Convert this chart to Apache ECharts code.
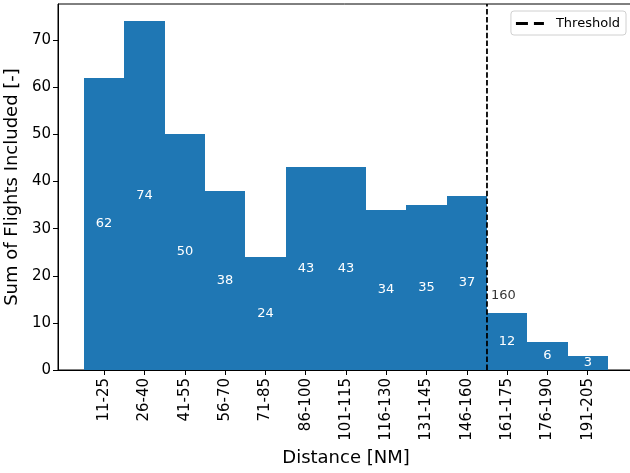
<!DOCTYPE html>
<html>
<head>
<meta charset="utf-8">
<script src="https://cdn.jsdelivr.net/npm/echarts@6/dist/echarts.min.js"></script>
<style>
  html, body { margin: 0; padding: 0; background: #fff; }
  #chart { width: 630px; height: 473px; }
</style>
</head>
<body>
<div id="chart"></div>
<script>
// Distance bins (NM) and the number of flights in each bin
const categories = ['11-25', '26-40', '41-55', '56-70', '71-85', '86-100', '101-115',
                    '116-130', '131-145', '146-160', '161-175', '176-190', '191-205'];
const flights = [62, 74, 50, 38, 24, 43, 43, 34, 35, 37, 12, 6, 3];

// Threshold sits on the boundary between the 146-160 and 161-175 bins
const thresholdPos = 9.5;
const thresholdText = '160';
const thresholdTextAt = [9.6, 15.7];

const yTicks = [0, 10, 20, 30, 40, 50, 60, 70];
const yMax = 77.7;

const FONT = '"DejaVu Sans", sans-serif';
const BLUE = '#1f77b4';

const chart = echarts.init(document.getElementById('chart'), null, { renderer: 'canvas' });

const binIndex = categories.map((_, i) => i);

chart.setOption({
  animation: false,
  backgroundColor: '#fff',
  grid: {
    left: 58, top: 4, width: 576, height: 366,
    outerBoundsMode: 'none', containLabel: false,
    show: true, borderColor: '#000', borderWidth: 1, backgroundColor: 'transparent'
  },
  legend: {
    right: 4, top: 11,
    data: [{ name: 'Threshold', icon: 'path://M0,0H12V3H0Z M18,0H28V3H18Z' }],
    itemWidth: 28, itemHeight: 3,
    padding: [6, 6, 5, 5],
    borderColor: '#d0d0d0', borderWidth: 1, borderRadius: 3,
    backgroundColor: '#fff',
    textStyle: { fontFamily: FONT, fontSize: 13, color: '#000', padding: [0, 0, 0, 7] }
  },
  xAxis: {
    type: 'value',
    min: -1.15, max: 13.15,
    splitLine: { show: false },
    axisLine: { show: true, onZero: false, lineStyle: { color: '#000', width: 1 } },
    axisTick: { show: true, length: 5, lineStyle: { color: '#000' }, customValues: binIndex },
    axisLabel: {
      customValues: binIndex,
      rotate: 90, margin: 8,
      fontFamily: FONT, fontSize: 15, color: '#000',
      formatter: v => categories[Math.round(v)] ?? ''
    },
    name: 'Distance [NM]',
    nameLocation: 'middle', nameGap: 79,
    nameTextStyle: { fontFamily: FONT, fontSize: 18, color: '#000' }
  },
  yAxis: {
    type: 'value',
    min: 0, max: yMax,
    splitLine: { show: false },
    axisLine: { show: true, onZero: false, lineStyle: { color: '#000', width: 1 } },
    axisTick: { show: true, length: 5, lineStyle: { color: '#000' }, customValues: yTicks },
    axisLabel: { customValues: yTicks, margin: 7, fontFamily: FONT, fontSize: 15, color: '#000' },
    name: 'Sum of Flights Included [-]',
    nameLocation: 'middle', nameGap: 28,
    nameTextStyle: { fontFamily: FONT, fontSize: 18, color: '#000' }
  },
  series: [
    {
      // Histogram-style bars: each bin spans [i-0.5, i+0.5], value label at half height.
      // Edges are snapped to whole pixels so neighbouring bars meet without a seam.
      type: 'custom',
      name: 'Flights',
      data: flights.map((v, i) => [i, v]),
      renderItem: (params, api) => {
        const i = api.value(0), v = api.value(1);
        const p0 = api.coord([i - 0.5, v]).map(Math.round);
        const p1 = api.coord([i + 0.5, 0]).map(Math.round);
        return {
          type: 'rect',
          shape: { x: p0[0], y: p0[1], width: p1[0] - p0[0], height: p1[1] - p0[1] },
          style: { fill: BLUE, stroke: 'none', lineWidth: 0 },
          textContent: {
            style: { text: String(v), fill: '#fff', font: '13px ' + FONT, stroke: 'none' }
          },
          textConfig: { position: 'inside' }
        };
      },
      z: 1
    },
    {
      type: 'line',
      name: 'Threshold',
      data: [[thresholdPos, 0], [thresholdPos, yMax]],
      symbol: 'none',
      lineStyle: { color: '#000', width: 1.8, type: [5.5, 2.4] },
      itemStyle: { color: '#000' },
      z: 3
    },
    {
      type: 'scatter',
      name: 'thresholdLabel',
      data: [thresholdTextAt],
      symbolSize: 0,
      label: {
        show: true, position: 'right', distance: 0,
        formatter: thresholdText,
        fontFamily: FONT, fontSize: 13, color: '#000'
      },
      z: 4
    }
  ]
});
</script>
</body>
</html>
